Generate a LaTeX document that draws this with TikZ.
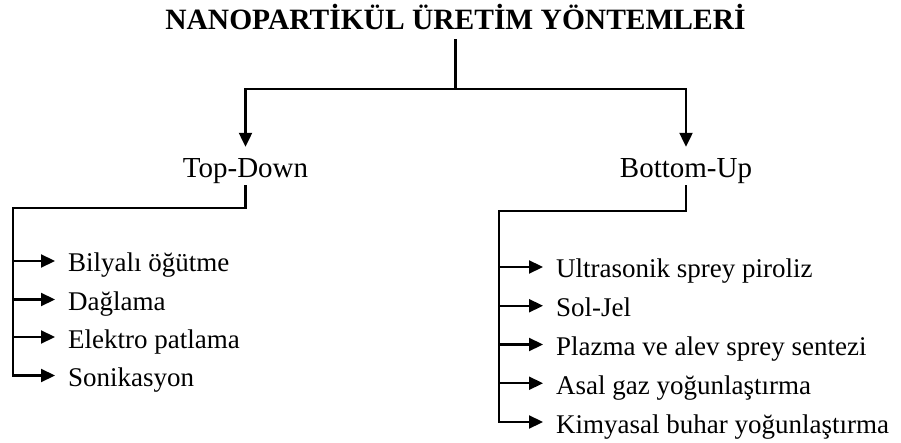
\documentclass[tikz,border=0pt]{standalone}
\usepackage{fontspec}
\setmainfont{Liberation Serif}
\usetikzlibrary{arrows.meta}
\begin{document}
\begin{tikzpicture}[x=1pt,y=-1pt,
  conn/.style={line width=2.2pt,line cap=rect},
  arr/.style={conn,-{Triangle[length=14pt,width=13pt]}},
  item/.style={anchor=west,inner xsep=13pt,inner ysep=0pt,text height=22pt,text depth=0pt,font=\fontsize{27}{30}\selectfont},
  branch/.style={inner sep=0pt,anchor=base,font=\fontsize{29}{32}\selectfont},
  heading/.style={anchor=base,inner xsep=0pt,inner ysep=10pt,font=\bfseries\fontsize{29.5}{32}\selectfont}
]
\useasboundingbox (0,0) rectangle (901,443);
\node[heading] (title) at (455.5,29.5) {NANOPARTİKÜL ÜRETİM YÖNTEMLERİ};
\coordinate (split) at (455.5,89);
\node[branch] (td) at (245.5,178) {Top-Down};
\node[branch] (bu) at (686,178) {Bottom-Up};
\draw[conn] (title.south) -- (split);
\draw[arr,shorten >=12pt] (split) -| (td.north);
\draw[arr,shorten >=12pt] (split) -| (bu.north);

% left branch
\coordinate (lcorner) at (13,208);
\node[item] (l1) at (55,261) {Bilyalı öğütme};
\node[item] (l2) at (55,299.5) {Dağlama};
\node[item] (l3) at (55,337) {Elektro patlama};
\node[item] (l4) at (55,375.5) {Sonikasyon};
\draw[conn,shorten <=2pt] (td.south) |- (lcorner) -- (lcorner |- l4.west);
\foreach \n in {l1,l2,l3,l4}
  \draw[arr] (lcorner |- \n.west) -- (\n.west);

% right branch
\coordinate (rcorner) at (499,211);
\node[item] (r1) at (543,267) {Ultrasonik sprey piroliz};
\node[item] (r2) at (543,305.75) {Sol-Jel};
\node[item] (r3) at (543,344.5) {Plazma ve alev sprey sentezi};
\node[item] (r4) at (543,383.25) {Asal gaz yoğunlaştırma};
\node[item] (r5) at (543,422) {Kimyasal buhar yoğunlaştırma};
\draw[conn,shorten <=2pt] (bu.south) |- (rcorner) -- (rcorner |- r5.west);
\foreach \n in {r1,r2,r3,r4,r5}
  \draw[arr] (rcorner |- \n.west) -- (\n.west);
\end{tikzpicture}
\end{document}
